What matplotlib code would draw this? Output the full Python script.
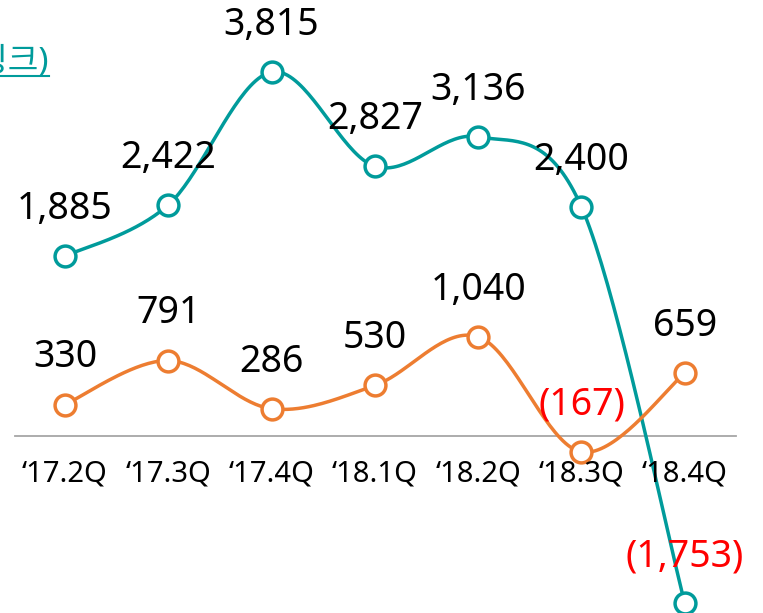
import matplotlib
matplotlib.use("Agg")
import matplotlib.pyplot as plt
import numpy as np

plt.rcParams['font.family'] = ['Noto Sans', 'Noto Sans CJK KR', 'DejaVu Sans']

quarters = ["\u201817.2Q", "\u201817.3Q", "\u201817.4Q", "\u201818.1Q",
            "\u201818.2Q", "\u201818.3Q", "\u201818.4Q"]
serie_teal = [1885, 2422, 3815, 2827, 3136, 2400, -1753]
serie_naranja = [330, 791, 286, 530, 1040, -167, 659]

TEAL = "#009B9B"
NARANJA = "#ED7D31"
ROJO = "#FF0000"


def curva_suave(xs, ys, pasos=40):
    # spline tipo Catmull-Rom (como la linea suavizada de Excel)
    xs = np.asarray(xs, float)
    ys = np.asarray(ys, float)
    px = np.concatenate([[xs[0]], xs, [xs[-1]]])
    py = np.concatenate([[ys[0]], ys, [ys[-1]]])
    out_x, out_y = [], []
    t = np.linspace(0, 1, pasos)
    for i in range(1, len(px) - 2):
        x0, x1, x2, x3 = px[i - 1:i + 3]
        y0, y1, y2, y3 = py[i - 1:i + 3]
        cx1, cy1 = x1 + (x2 - x0) / 6, y1 + (y2 - y0) / 6
        cx2, cy2 = x2 - (x3 - x1) / 6, y2 - (y3 - y1) / 6
        bx = (1 - t) ** 3 * x1 + 3 * (1 - t) ** 2 * t * cx1 + 3 * (1 - t) * t ** 2 * cx2 + t ** 3 * x2
        by = (1 - t) ** 3 * y1 + 3 * (1 - t) ** 2 * t * cy1 + 3 * (1 - t) * t ** 2 * cy2 + t ** 3 * y2
        out_x.extend(bx)
        out_y.extend(by)
    return out_x, out_y


def formato(v):
    return f"({abs(v):,})" if v < 0 else f"{v:,}"


fig = plt.figure(figsize=(7.63, 6.13), dpi=100)
ax = fig.add_axes([0, 0, 1, 1])
x = np.arange(len(quarters))

ax.set_xlim(-0.629, 6.757)
ax.set_ylim(-1855, 4570)
ax.axis('off')

# linea del cero
ax.plot([-0.484, 6.5], [0, 0], color="#A6A6A6", lw=1.3, zorder=1)

for serie, color in [(serie_teal, TEAL), (serie_naranja, NARANJA)]:
    cx, cy = curva_suave(x, serie)
    ax.plot(cx, cy, color=color, lw=2.5, zorder=2, solid_capstyle='round')
    ax.plot(x, serie, 'o', ms=15, mfc='white', mec=color, mew=2.5, zorder=3)
    for xi, v in zip(x, serie):
        ax.annotate(formato(v), (xi, v), xytext=(0, 34), textcoords='offset points',
                    ha='center', va='center', fontsize=27,
                    color=ROJO if v < 0 else 'black', zorder=4)

for xi, q in zip(x, quarters):
    ax.annotate(q, (xi, 0), xytext=(0, -27), textcoords='offset points',
                ha='center', va='center', fontsize=21, color='black')

# texto cortado arriba a la izquierda
t = fig.text(49 / 763, 1 - 62 / 613, "(링크)", ha='right', va='center',
             fontsize=24, color=TEAL)
fig.canvas.draw()
bb = t.get_window_extent().transformed(fig.transFigure.inverted())
fig.add_artist(plt.Line2D([bb.x0, bb.x1], [bb.y0 + 0.004, bb.y0 + 0.004],
                          color=TEAL, lw=1.5, transform=fig.transFigure))

fig.savefig("out.png", dpi=100)
